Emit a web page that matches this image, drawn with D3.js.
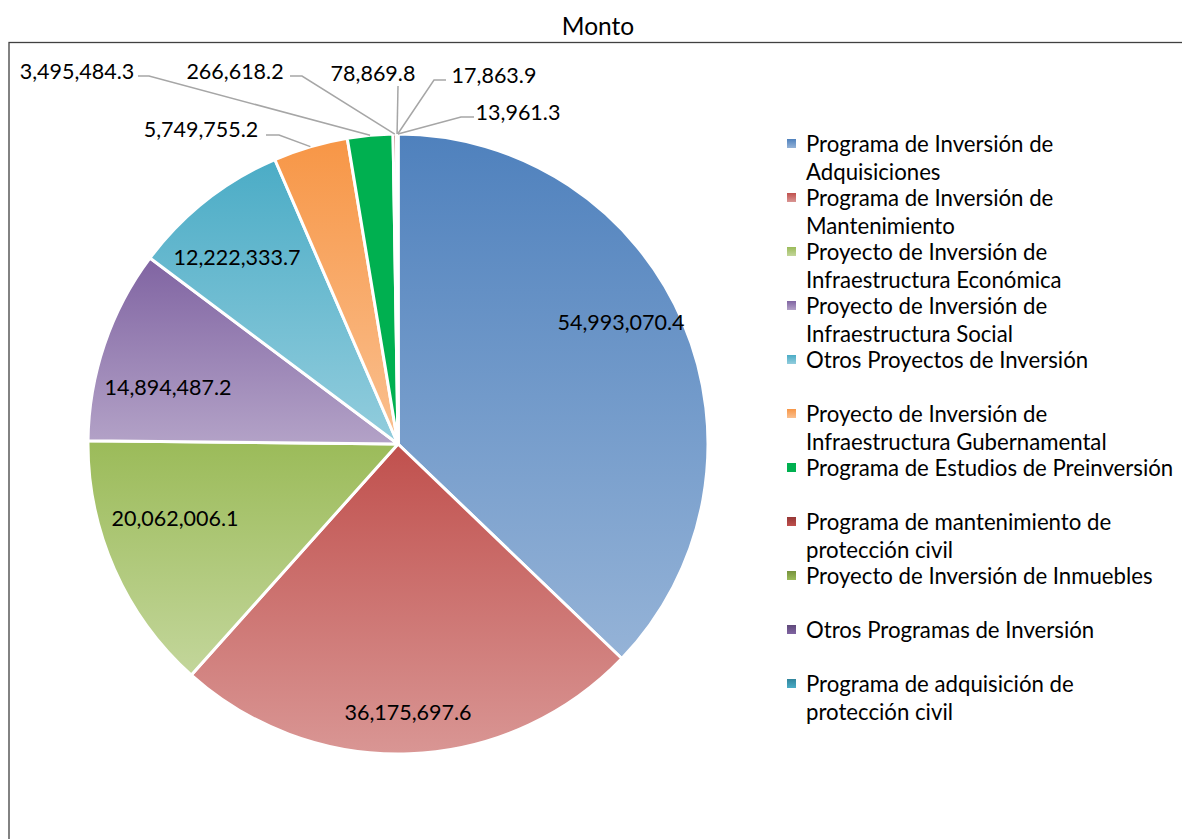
<!DOCTYPE html>
<html><head><meta charset="utf-8">
<script src="https://cdn.jsdelivr.net/npm/d3@7"></script>
<style>
body{margin:0;background:#fff;}
svg{display:block;}
text{font-family:Lato, "Open Sans", sans-serif; fill:#000;}
</style>
</head><body>
<svg id="chart" width="1182" height="839"></svg>
<script>
// ---------------- data ----------------
const title = "Monto";
const categories = [
  "Programa de Inversión de Adquisiciones",
  "Programa de Inversión de Mantenimiento",
  "Proyecto de Inversión de Infraestructura Económica",
  "Proyecto de Inversión de Infraestructura Social",
  "Otros Proyectos de Inversión",
  "Proyecto de Inversión de Infraestructura Gubernamental",
  "Programa de Estudios de Preinversión",
  "Programa de mantenimiento de protección civil",
  "Proyecto de Inversión de Inmuebles",
  "Otros Programas de Inversión",
  "Programa de adquisición de protección civil"
];
const values = [54993070.4, 36175697.6, 20062006.1, 14894487.2, 12222333.7,
                5749755.2, 3495484.3, 266618.2, 78869.8, 17863.9, 13961.3];

// ---------------- styles ----------------
const topColors    = ["#4f81bd","#c0504d","#9bbb59","#8064a2","#4bacc6","#f79646","#00b050","#953735","#76923c","#5f497a","#31859c"];
const bottomColors = ["#95b3d7","#d99694","#c3d69b","#b3a2c7","#93cddd","#fac090","#00b050","#c0504d","#9bbb59","#8064a2","#4bacc6"];

// ---------------- layout ----------------
const W = 1182, H = 839;
const cx = 398, cy = 444, R = 310;
const labelFont = 21.5, legendFont = 22.2, titleFont = 24.5;
// inside label centres (absolute px)
const insideLabelPos = {0:[621,322], 1:[408,712], 2:[175,518], 3:[168,387], 4:[237,257]};
// outside labels: text centre and leader elbow points
const outsideLabels = {
  5:  {text:[201,129], pts:[[266,135],[279,135]]},
  6:  {text:[77,71],   pts:[[138,76],[149,76]]},
  7:  {text:[235,71],  pts:[[290,76],[302,76]]},
  8:  {text:[373,73],  pts:[[398,86]]},
  9:  {text:[494,75],  pts:[[446,80],[434,80]]},
  10: {text:[518,112], pts:[[474,117],[461,117]]}
};
const legendX = 787, legendTextX = 806, legendY0 = 143, legendStep = 54, legendLine = 28, legendWrap = 372;

const svg = d3.select("#chart");
const defs = svg.append("defs");
values.forEach((v,i) => {
  const g = defs.append("linearGradient").attr("id","grad"+i)
    .attr("x1",0).attr("y1",0).attr("x2",0).attr("y2",1);
  g.append("stop").attr("offset","0%").attr("stop-color",topColors[i]);
  g.append("stop").attr("offset","100%").attr("stop-color",bottomColors[i]);
});

// frame
svg.append("rect").attr("x",9).attr("y",42.5).attr("width",1300).attr("height",1000)
  .attr("fill","none").attr("stroke","#404040").attr("stroke-width",1.3);

// title
svg.append("text").attr("x",598).attr("y",25).attr("text-anchor","middle")
  .attr("dominant-baseline","central").style("font-size",titleFont+"px").text(title);

// pie
const pie = d3.pie().sort(null).value(d => d)(values);
const arc = d3.arc().innerRadius(0).outerRadius(R);
const g = svg.append("g").attr("transform",`translate(${cx},${cy})`);
g.selectAll("path").data(pie).join("path")
  .attr("d", arc)
  .attr("fill", (d,i) => `url(#grad${i})`)
  .attr("stroke","#fff").attr("stroke-width",3).attr("stroke-linejoin","round");

const fmt = d3.format(",.1f");

// inside labels
pie.forEach((d,i) => {
  if (insideLabelPos[i]) {
    const p = insideLabelPos[i];
    svg.append("text").attr("x",p[0]).attr("y",p[1]).attr("text-anchor","middle")
      .attr("dominant-baseline","central").style("font-size",labelFont+"px").text(fmt(values[i]));
  }
});

// outside labels + leader lines
pie.forEach((d,i) => {
  const o = outsideLabels[i];
  if (!o) return;
  const a = (d.startAngle + d.endAngle)/2;
  const edge = [cx + R*Math.sin(a), cy - R*Math.cos(a)];
  const pts = o.pts.concat([edge]);
  svg.append("path").attr("d", d3.line()(pts)).attr("fill","none")
    .attr("stroke","#a6a6a6").attr("stroke-width",1.5);
  svg.append("text").attr("x",o.text[0]).attr("y",o.text[1]).attr("text-anchor","middle")
    .attr("dominant-baseline","central").style("font-size",labelFont+"px").text(fmt(values[i]));
});

// legend
const lg = svg.append("g");
categories.forEach((c,i) => {
  const y = legendY0 + i*legendStep;
  lg.append("rect").attr("x",legendX).attr("y",y-4).attr("width",9).attr("height",9)
    .attr("fill",`url(#grad${i})`);
  const t = lg.append("text").attr("x",legendTextX).attr("y",y)
    .attr("dominant-baseline","central").style("font-size",legendFont+"px");
  // word wrap
  const words = c.split(" ");
  let line = [], lineNo = 0;
  let ts = t.append("tspan").attr("x",legendTextX).attr("y",y);
  words.forEach(w => {
    line.push(w);
    ts.text(line.join(" "));
    if (ts.node().getComputedTextLength() > legendWrap && line.length > 1) {
      line.pop(); ts.text(line.join(" "));
      line = [w]; lineNo++;
      ts = t.append("tspan").attr("x",legendTextX).attr("y",y + lineNo*legendLine).text(w);
    }
  });
});
</script>
</body></html>
